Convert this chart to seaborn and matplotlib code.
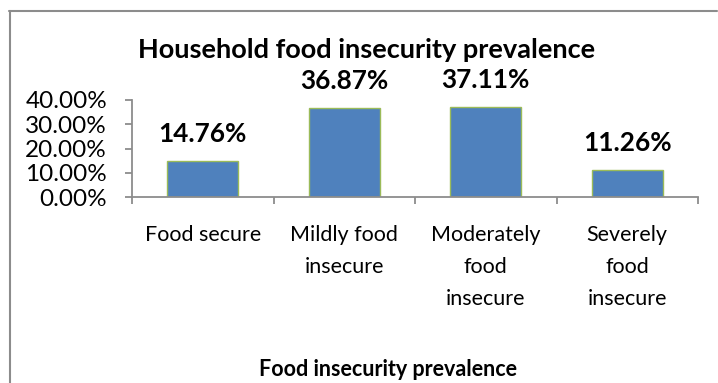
import matplotlib
matplotlib.use("Agg")
import matplotlib.pyplot as plt
import seaborn as sns
import pandas as pd
from matplotlib.ticker import PercentFormatter, FixedLocator
from matplotlib.lines import Line2D

categories = ["Food secure", "Mildly food\ninsecure", "Moderately\nfood\ninsecure", "Severely\nfood\ninsecure"]
values = [0.1476, 0.3687, 0.3711, 0.1126]
value_labels = ["14.76%", "36.87%", "37.11%", "11.26%"]
title = "Household food insecurity prevalence"
xlabel = "Food insecurity prevalence"

sns.set_theme(style="white")
plt.rcParams['font.family'] = ['Lato', 'DejaVu Sans']

W, H = 718, 383
fig = plt.figure(figsize=(W / 100, H / 100), dpi=100)
ax = fig.add_axes([132 / W, 1 - 197 / H, (698 - 132) / W, (197 - 100) / H])

df = pd.DataFrame({"cat": categories, "val": values})
sns.barplot(data=df, x="cat", y="val", ax=ax, color="#4F81BD", width=0.5,
            edgecolor="#9BBB59", linewidth=1.0, saturation=1)

ax.set_xlim(-0.5, len(categories) - 0.5)
ax.set_ylim(0, 0.4)
ax.set_yticks([0, 0.1, 0.2, 0.3, 0.4])
ax.yaxis.set_major_formatter(PercentFormatter(1.0, decimals=2))

for s in ["top", "right"]:
    ax.spines[s].set_visible(False)
for s in ["left", "bottom"]:
    ax.spines[s].set_color("#8C8C8C")
    ax.spines[s].set_linewidth(1.3)

ax.tick_params(axis="y", which="major", left=True, length=5, width=1.3, color="#8C8C8C",
               pad=13, labelsize=17.5, labelcolor="black")
ax.set_xticks(range(len(categories)))
ax.set_xticklabels(categories, fontsize=15.5, color="black", linespacing=1.75)
ax.tick_params(axis="x", which="major", bottom=True, length=0, pad=20)
ax.xaxis.set_minor_locator(FixedLocator([i - 0.5 for i in range(len(categories) + 1)]))
ax.tick_params(axis="x", which="minor", bottom=True, length=5, width=1.3, color="#8C8C8C")
ax.set_xlabel("")
ax.set_ylabel("")

for i, (v, lab) in enumerate(zip(values, value_labels)):
    ax.annotate(lab, (i, v), xytext=(0, 27), textcoords="offset pixels",
                ha="center", va="center", fontsize=18.8, fontweight="bold", color="black")

fig.text(367 / W, 1 - 50 / H, title, ha="center", va="center", fontsize=19.5,
         fontweight="bold", color="black")
fig.text(388 / W, 1 - 369 / H, xlabel, ha="center", va="center", fontsize=15.5,
         fontweight="bold", color="black")

fig.add_artist(Line2D([9 / W, 717 / W], [1 - 11 / H, 1 - 11 / H], transform=fig.transFigure,
                      color="#8C8C8C", lw=1.5))
fig.add_artist(Line2D([10 / W, 10 / W], [1 - 11 / H, 0], transform=fig.transFigure,
                      color="#8C8C8C", lw=1.5))

fig.savefig("out.png", dpi=100)
